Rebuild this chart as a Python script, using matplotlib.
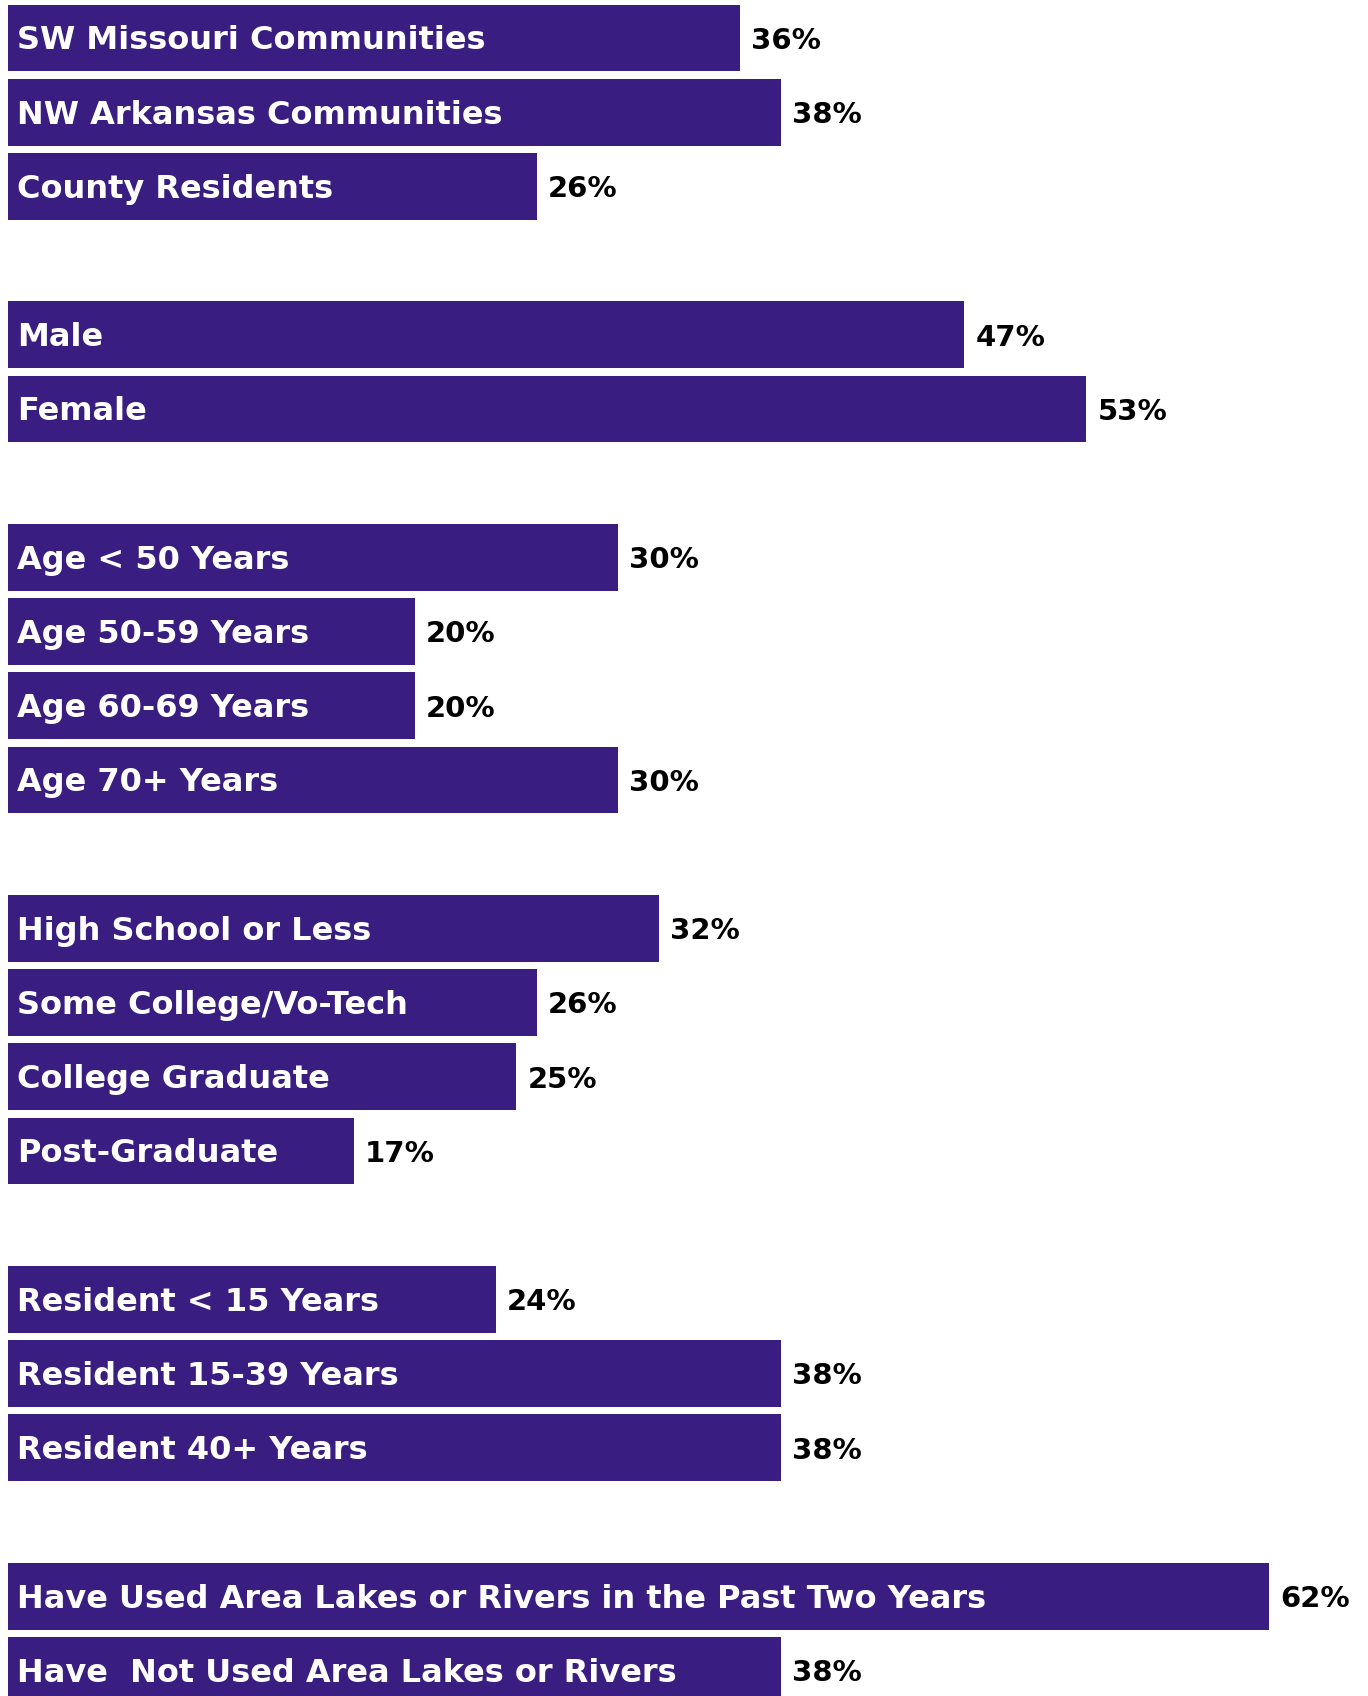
import matplotlib
matplotlib.use('Agg')
from matplotlib import pyplot as plt

labels = ['SW Missouri Communities', 'NW Arkansas Communities', 'County Residents',
          'Male', 'Female',
          'Age < 50 Years', 'Age 50-59 Years', 'Age 60-69 Years', 'Age 70+ Years',
          'High School or Less', 'Some College/Vo-Tech', 'College Graduate', 'Post-Graduate',
          'Resident < 15 Years', 'Resident 15-39 Years', 'Resident 40+ Years',
          'Have Used Area Lakes or Rivers in the Past Two Years',
          'Have  Not Used Area Lakes or Rivers']
values = [36, 38, 26, 47, 53, 30, 20, 20, 30, 32, 26, 25, 17, 24, 38, 38, 62, 38]
groups = [3, 2, 4, 4, 3, 2]

# slot positions, one empty slot between groups
pos = []
p = 0
for g in groups:
    for i in range(g):
        pos.append(p)
        p += 1
    p += 1

purple = '#391d80'
fig = plt.figure(figsize=(13.68, 16.96), dpi=100)
ax = fig.add_axes([7.6 / 1368, 0, 1 - 7.6 / 1368, 1])
ax.barh(pos, values, height=0.9, color=purple)
ax.set_xlim(0, 66.85)
ax.set_ylim(22.346, -0.511)
ax.axis('off')

for y, v, lab in zip(pos, values, labels):
    ax.text(0.45, y + 0.04, lab, color='white', fontsize=23, fontweight='bold',
            family='DejaVu Sans', va='center', ha='left')
    ax.text(v + 0.55, y + 0.04, f'{v}%', color='black', fontsize=21, fontweight='bold',
            family='DejaVu Sans', va='center', ha='left')

fig.savefig('out.png', dpi=100, facecolor='white')
